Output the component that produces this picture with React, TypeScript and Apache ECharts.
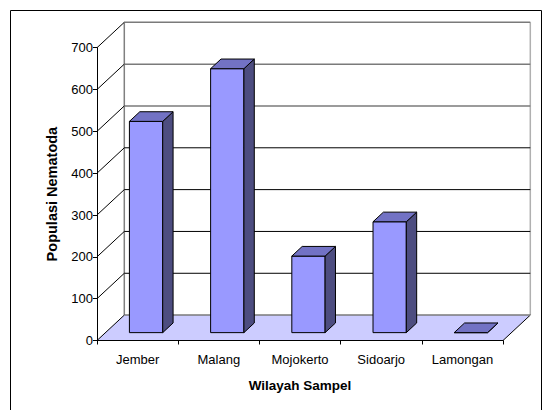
import React, { useEffect, useRef } from "react";
import * as echarts from "echarts";

const categories = ["Jember", "Malang", "Mojokerto", "Sidoarjo", "Lamongan"];
const populasi = [505, 631, 183, 265, 0];
const yTicks = [0, 100, 200, 300, 400, 500, 600, 700];

const DX = 27.3;
const DY = -25.4;
const F1 = 0.31;
const FD = 0.38;

export default function App() {
  const ref = useRef<HTMLDivElement>(null);
  useEffect(() => {
    if (!ref.current) return;
    const chart = echarts.init(ref.current, null, { renderer: "svg" });
    const font = "'Liberation Sans', Arial, sans-serif";
    const option: any = {
      animation: false,
      backgroundColor: "#ffffff",
      textStyle: { fontFamily: font },
      graphic: [
        {
          type: "rect",
          shape: { x: 10.5, y: 10.5, width: 531, height: 420 },
          style: { fill: "none", stroke: "#000", lineWidth: 1 },
          silent: true,
          z: -10,
        },
      ],
      grid: { left: 97, right: 49, top: 47.7, bottom: 69.5, containLabel: false },
      xAxis: {
        type: "category",
        data: categories,
        boundaryGap: true,
        name: "Wilayah Sampel",
        nameLocation: "middle",
        nameGap: 38,
        nameTextStyle: { fontFamily: font, fontSize: 13.5, fontWeight: "bold", color: "#000" },
        axisLine: { show: true, lineStyle: { color: "#000", width: 1 } },
        axisTick: { show: true, length: 4, lineStyle: { color: "#000" } },
        axisLabel: { fontFamily: font, fontSize: 13, color: "#000", margin: 12 },
        splitLine: { show: false },
        z: 5,
      },
      yAxis: {
        type: "value",
        min: 0,
        max: 700,
        interval: 100,
        name: "Populasi Nematoda",
        nameLocation: "middle",
        nameGap: 38,
        nameTextStyle: { fontFamily: font, fontSize: 14.5, fontWeight: "bold", color: "#000" },
        axisLine: { show: true, lineStyle: { color: "#000", width: 1 } },
        axisTick: { show: true, length: 4, lineStyle: { color: "#000" } },
        axisLabel: { fontFamily: font, fontSize: 13, color: "#000", margin: 4 },
        splitLine: { show: false },
        z: 5,
      },
      series: [
        {
          type: "custom",
          name: "wall",
          clip: false,
          silent: true,
          z: 1,
          data: [[0, 0]],
          renderItem: (params: any, api: any) => {
            const cs = params.coordSys;
            const left = cs.x;
            const right = cs.x + cs.width;
            const y0 = api.coord([0, 0])[1];
            const yTop = api.coord([0, yTicks[yTicks.length - 1]])[1];
            const children: any[] = [];
            children.push({
              type: "polygon",
              shape: {
                points: [
                  [left, y0],
                  [right, y0],
                  [right + DX, y0 + DY],
                  [left + DX, y0 + DY],
                ],
              },
              style: { fill: "#CCCCFF", stroke: "none" },
            });
            children.push({
              type: "line",
              shape: { x1: left + DX, y1: y0 + DY, x2: left + DX, y2: yTop + DY },
              style: { stroke: "#808080", lineWidth: 1.5 },
            });
            children.push({
              type: "line",
              shape: { x1: right + DX, y1: y0 + DY, x2: right + DX, y2: yTop + DY },
              style: { stroke: "#b0b0b0", lineWidth: 1.5 },
            });
            children.push({
              type: "line",
              shape: { x1: right, y1: y0, x2: right + DX, y2: y0 + DY },
              style: { stroke: "#000", lineWidth: 1 },
            });
            yTicks.forEach((v) => {
              const yy = api.coord([0, v])[1];
              const gray = v >= 500 || v === 0;
              children.push({
                type: "line",
                shape: { x1: left + DX, y1: yy + DY, x2: right + DX, y2: yy + DY },
                style: { stroke: gray ? "#7a7a7a" : "#000", lineWidth: gray ? 1.5 : 1 },
              });
              children.push({
                type: "line",
                shape: { x1: left, y1: yy, x2: left + DX, y2: yy + DY },
                style: { stroke: "#000", lineWidth: 1 },
              });
            });
            return { type: "group", children };
          },
        },
        {
          type: "custom",
          name: "Populasi Nematoda",
          clip: false,
          z: 3,
          encode: { x: 0, y: 1 },
          data: populasi.map((v, i) => [i, v]),
          renderItem: (params: any, api: any) => {
            const i = api.value(0);
            const v = api.value(1);
            const base = api.coord([i, 0]);
            const top = api.coord([i, v]);
            const cw = api.size([1, 0])[0];
            const w = cw * 0.41;
            const x0 = base[0] - w / 2 + DX * F1;
            const bot = base[1] + DY * F1;
            const ty = top[1] + DY * F1;
            const ddx = DX * FD;
            const ddy = DY * FD;
            const stroke = { stroke: "#000", lineWidth: 1, lineJoin: "round" };
            return {
              type: "group",
              children: [
                {
                  type: "polygon",
                  shape: { points: [[x0, bot], [x0 + w, bot], [x0 + w, ty], [x0, ty]] },
                  style: { fill: "#9999FF", ...stroke },
                },
                {
                  type: "polygon",
                  shape: {
                    points: [
                      [x0 + w, bot],
                      [x0 + w, ty],
                      [x0 + w + ddx, ty + ddy],
                      [x0 + w + ddx, bot + ddy],
                    ],
                  },
                  style: { fill: "#4D4D80", ...stroke },
                },
                {
                  type: "polygon",
                  shape: {
                    points: [
                      [x0, ty],
                      [x0 + w, ty],
                      [x0 + w + ddx, ty + ddy],
                      [x0 + ddx, ty + ddy],
                    ],
                  },
                  style: { fill: "#7272C4", ...stroke },
                },
              ],
            };
          },
        },
      ],
    };
    chart.setOption(option);
    return () => chart.dispose();
  }, []);
  return (
    <div
      ref={ref}
      style={{ position: "fixed", left: 0, top: 0, width: 552, height: 410 }}
    />
  );
}
